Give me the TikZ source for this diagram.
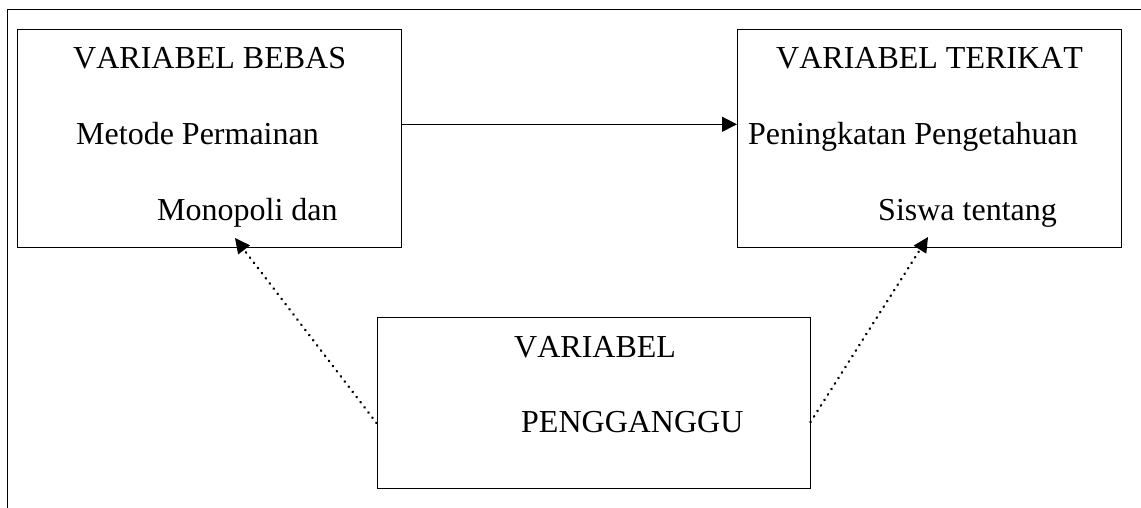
\documentclass[tikz,border=0pt]{standalone}
\usepackage{fontspec}
\setmainfont{Liberation Serif}[Kerning=Off]
\usetikzlibrary{arrows.meta}
\begin{document}
\begin{tikzpicture}[x=1pt,y=1pt,
  boxnode/.style={draw, line width=1pt, rectangle, inner sep=0pt},
  txt/.style={anchor=base west, inner sep=0pt, font=\fontsize{32}{36}\selectfont},
  solidarrow/.style={line width=1pt, -{Triangle[length=15pt,width=15pt]}},
  dotarrow/.style={line width=2.6pt, line cap=round, dash pattern=on 0.3pt off 6.2pt, -{Triangle[length=15pt,width=15pt,line cap=butt,line width=0pt]}},
  frameline/.style={line width=1.3pt}]
\useasboundingbox (0,0) rectangle (1141,-508);
% outer frame
\draw[frameline] (1141,-9.5) -- (7.5,-9.5) -- (7.5,-508);
% boxes
\node[boxnode, minimum width=384pt, minimum height=217.5pt] (L) at (209,-138.75) {};
\node[boxnode, minimum width=383.5pt, minimum height=217.5pt] (R) at (929.25,-138.75) {};
\node[boxnode, minimum width=433pt, minimum height=171pt] (B) at (593.5,-402.5) {};
% texts
\node[txt] (l1) at (73,-69) {VARIABEL BEBAS};
\node[txt] (l2) at (76,-145) {Metode Permainan};
\node[txt] (l3) at (157,-220) {Monopoli dan};
\node[txt] (r1) at (776,-69) {VARIABEL TERIKAT};
\node[txt] (r2) at (748,-145) {Peningkatan Pengetahuan};
\node[txt] (r3) at (878,-220) {Siswa tentang};
\node[txt] (b1) at (514,-357) {VARIABEL};
\node[txt] (b2) at (521,-432) {PENGGANGGU};
% connector end points
\coordinate (ltip) at (235,-238);
\coordinate (rtip) at (928,-237);
% connectors
\draw[solidarrow] (L.east |- 0,-124.3) -- (R.west |- 0,-124.3);
\draw[dotarrow] (B.west |- 0,-423) -- (ltip);
\draw[dotarrow] (B.east |- 0,-422) -- (rtip);
\end{tikzpicture}
\end{document}
